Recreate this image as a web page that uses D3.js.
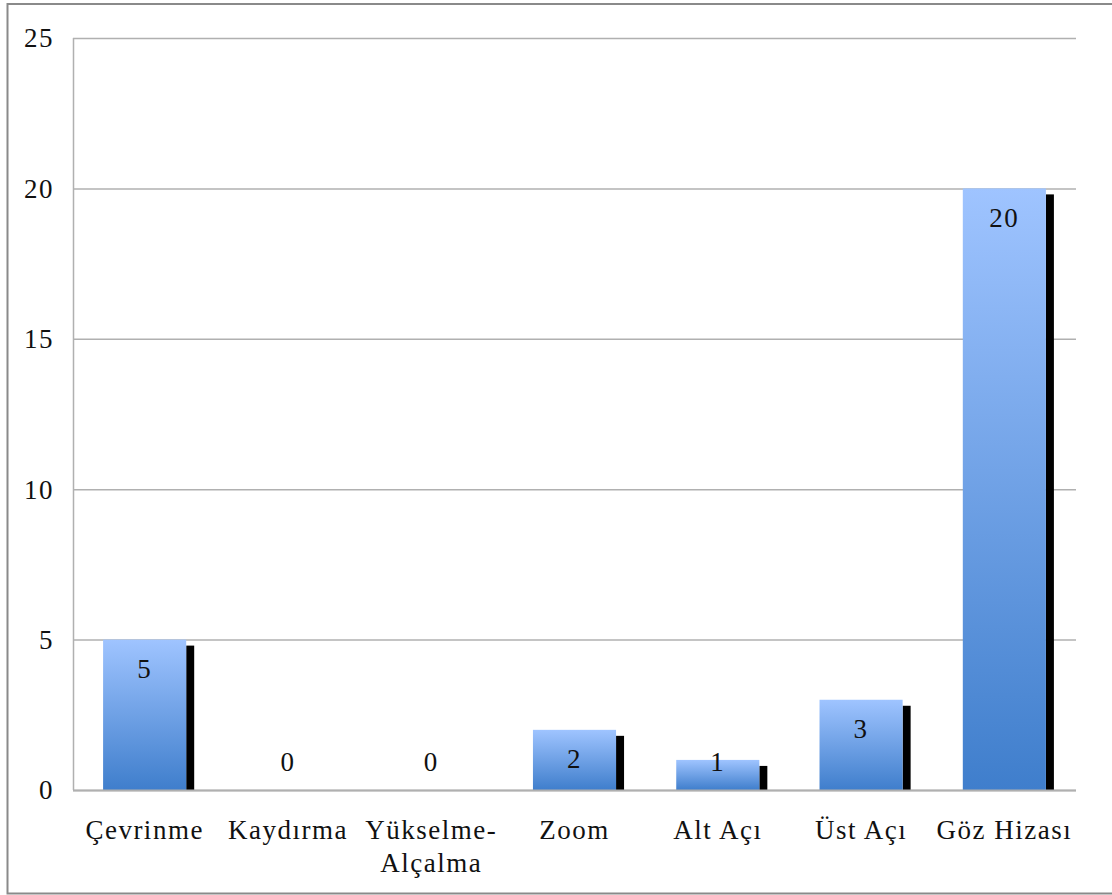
<!DOCTYPE html>
<html>
<head>
<meta charset="utf-8">
<script src="https://cdn.jsdelivr.net/npm/d3@7"></script>
<style>
  body { margin: 0; background: #fff; }
  text { font-family: "Liberation Serif", "DejaVu Serif", serif; fill: #111; letter-spacing: 1.5px; }
</style>
</head>
<body>
<svg id="chart" width="1112" height="895"></svg>
<script>
// categories and counts
const categories = ["Çevrinme", "Kaydırma", "Yükselme-Alçalma", "Zoom", "Alt Açı", "Üst Açı", "Göz Hizası"];
const counts = [5, 0, 0, 2, 1, 3, 20];
const yTicks = [0, 5, 10, 15, 20, 25];

const svg = d3.select("#chart");

// outer frame (open on the right, like the picture)
svg.append("path")
    .attr("d", "M1112,4 H7.5 V893.5 H1112")
    .attr("fill", "none")
    .attr("stroke", "#8a8a8a")
    .attr("stroke-width", 2);

const margin = {top: 38, right: 36, bottom: 105, left: 73};
const width = 1112 - margin.left - margin.right,
      height = 895 - margin.top - margin.bottom;

const g = svg.append("g")
    .attr("transform", "translate(" + margin.left + "," + margin.top + ")");

const x = d3.scaleBand()
    .domain(categories)
    .range([0, width])
    .paddingInner(0.42)
    .paddingOuter(0.21);

const y = d3.scaleLinear()
    .domain([0, 25])
    .range([height, 0]);

// gradient per bar, light top to darker bottom
const grad = svg.append("defs").append("linearGradient")
    .attr("id", "barGrad")
    .attr("x1", 0).attr("y1", 0).attr("x2", 0).attr("y2", 1);
grad.append("stop").attr("offset", "0%").attr("stop-color", "#9fc4ff");
grad.append("stop").attr("offset", "100%").attr("stop-color", "#3f7ecc");

// gridlines
g.append("g")
    .call(d3.axisLeft(y).tickValues(yTicks).tickSize(-width).tickFormat(""))
    .call(a => a.select(".domain").remove())
    .call(a => a.selectAll("line").attr("stroke", "#b0b0b0").attr("stroke-width", 1.5));

// y tick labels
g.append("g")
  .selectAll("text")
  .data(yTicks)
  .join("text")
    .attr("x", -19)
    .attr("y", d => y(d))
    .attr("dy", "0.35em")
    .attr("text-anchor", "end")
    .attr("font-size", 27)
    .text(d => d);

// shadows
g.append("g")
  .selectAll("rect")
  .data(counts)
  .join("rect")
    .attr("x", (d, i) => x(categories[i]) + x.bandwidth())
    .attr("y", d => Math.min(y(d) + 6, height))
    .attr("width", 8)
    .attr("height", d => Math.max(height - y(d) - 6, 0))
    .attr("fill", "#000");

// bars
g.append("g")
  .selectAll("rect")
  .data(counts)
  .join("rect")
    .attr("x", (d, i) => x(categories[i]))
    .attr("y", d => y(d))
    .attr("width", x.bandwidth())
    .attr("height", d => height - y(d))
    .attr("fill", "url(#barGrad)");

// value labels
g.append("g")
  .selectAll("text")
  .data(counts)
  .join("text")
    .attr("x", (d, i) => x(categories[i]) + x.bandwidth() / 2)
    .attr("y", d => Math.min(y(d) + 29, height - 28))
    .attr("dy", "0.35em")
    .attr("text-anchor", "middle")
    .attr("font-size", 27)
    .text(d => d);

// axis lines
g.append("line")
    .attr("x1", 0).attr("x2", width)
    .attr("y1", height + 0.5).attr("y2", height + 0.5)
    .attr("stroke", "#b0b0b0").attr("stroke-width", 2);
g.append("line")
    .attr("x1", 0.5).attr("x2", 0.5)
    .attr("y1", 0).attr("y2", height)
    .attr("stroke", "#b0b0b0").attr("stroke-width", 1.5);

// category labels, hyphenated one wraps
const catLines = c => c.includes("-") ? [c.split("-")[0] + "-", c.split("-")[1]] : [c];
g.append("g")
  .selectAll("text")
  .data(categories)
  .join("text")
    .attr("x", d => x(d) + x.bandwidth() / 2)
    .attr("y", height + 40)
    .attr("text-anchor", "middle")
    .attr("font-size", 27)
    .each(function(d) {
      const lines = catLines(d);
      d3.select(this).selectAll("tspan")
        .data(lines)
        .join("tspan")
          .attr("x", x(d) + x.bandwidth() / 2)
          .attr("dy", (l, i) => i === 0 ? "0.35em" : "1.22em")
          .text(l => l);
    });
</script>
</body>
</html>
